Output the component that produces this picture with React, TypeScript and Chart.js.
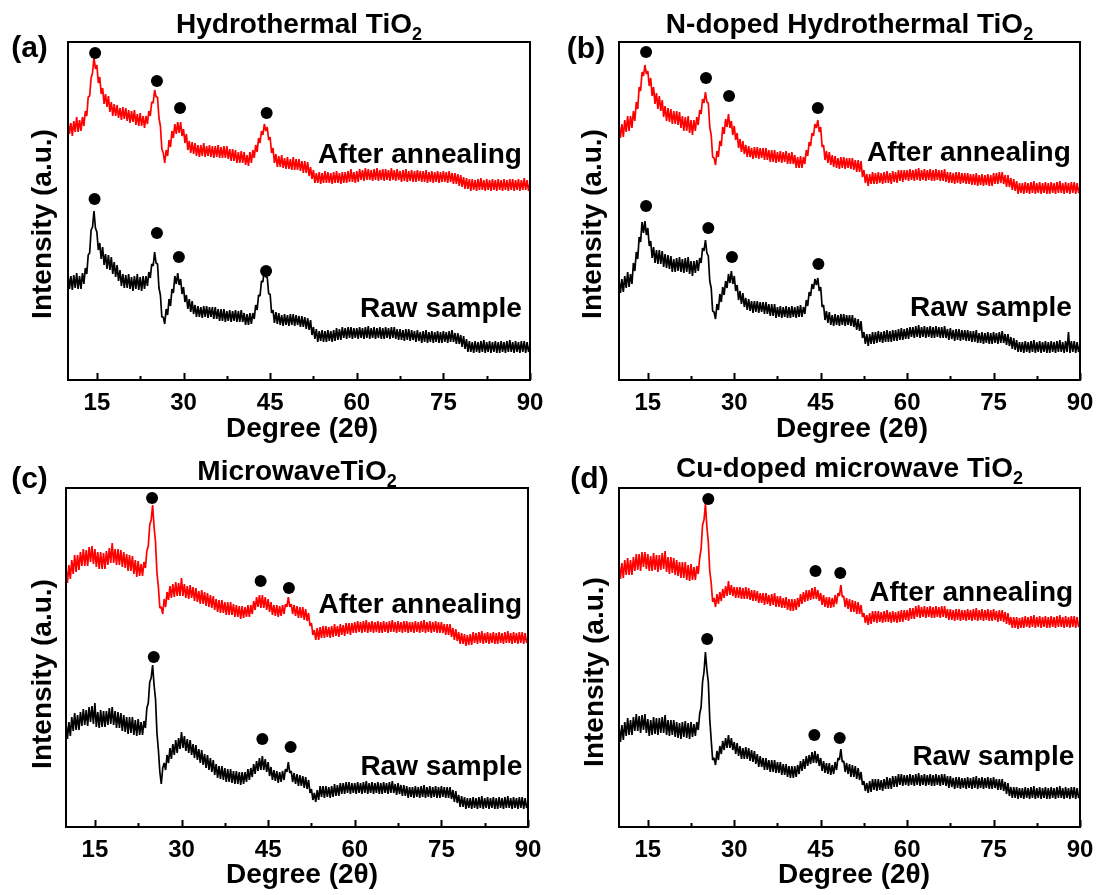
import { useEffect, useRef } from "react";
import { Chart, registerables } from "chart.js";

Chart.register(...registerables);

// ---------- shared axis data (2θ sampling, 0.25° steps) ----------
const degrees = [
  10, 10.25, 10.5, 10.75, 11, 11.25, 11.5, 11.75, 12, 12.25, 12.5, 12.75, 13, 13.25, 13.5, 13.75, 14, 14.25, 14.5, 14.75,
  15, 15.25, 15.5, 15.75, 16, 16.25, 16.5, 16.75, 17, 17.25, 17.5, 17.75, 18, 18.25, 18.5, 18.75, 19, 19.25, 19.5, 19.75,
  20, 20.25, 20.5, 20.75, 21, 21.25, 21.5, 21.75, 22, 22.25, 22.5, 22.75, 23, 23.25, 23.5, 23.75, 24, 24.25, 24.5, 24.75,
  25, 25.25, 25.5, 25.75, 26, 26.25, 26.5, 26.75, 27, 27.25, 27.5, 27.75, 28, 28.25, 28.5, 28.75, 29, 29.25, 29.5, 29.75,
  30, 30.25, 30.5, 30.75, 31, 31.25, 31.5, 31.75, 32, 32.25, 32.5, 32.75, 33, 33.25, 33.5, 33.75, 34, 34.25, 34.5, 34.75,
  35, 35.25, 35.5, 35.75, 36, 36.25, 36.5, 36.75, 37, 37.25, 37.5, 37.75, 38, 38.25, 38.5, 38.75, 39, 39.25, 39.5, 39.75,
  40, 40.25, 40.5, 40.75, 41, 41.25, 41.5, 41.75, 42, 42.25, 42.5, 42.75, 43, 43.25, 43.5, 43.75, 44, 44.25, 44.5, 44.75,
  45, 45.25, 45.5, 45.75, 46, 46.25, 46.5, 46.75, 47, 47.25, 47.5, 47.75, 48, 48.25, 48.5, 48.75, 49, 49.25, 49.5, 49.75,
  50, 50.25, 50.5, 50.75, 51, 51.25, 51.5, 51.75, 52, 52.25, 52.5, 52.75, 53, 53.25, 53.5, 53.75, 54, 54.25, 54.5, 54.75,
  55, 55.25, 55.5, 55.75, 56, 56.25, 56.5, 56.75, 57, 57.25, 57.5, 57.75, 58, 58.25, 58.5, 58.75, 59, 59.25, 59.5, 59.75,
  60, 60.25, 60.5, 60.75, 61, 61.25, 61.5, 61.75, 62, 62.25, 62.5, 62.75, 63, 63.25, 63.5, 63.75, 64, 64.25, 64.5, 64.75,
  65, 65.25, 65.5, 65.75, 66, 66.25, 66.5, 66.75, 67, 67.25, 67.5, 67.75, 68, 68.25, 68.5, 68.75, 69, 69.25, 69.5, 69.75,
  70, 70.25, 70.5, 70.75, 71, 71.25, 71.5, 71.75, 72, 72.25, 72.5, 72.75, 73, 73.25, 73.5, 73.75, 74, 74.25, 74.5, 74.75,
  75, 75.25, 75.5, 75.75, 76, 76.25, 76.5, 76.75, 77, 77.25, 77.5, 77.75, 78, 78.25, 78.5, 78.75, 79, 79.25, 79.5, 79.75,
  80, 80.25, 80.5, 80.75, 81, 81.25, 81.5, 81.75, 82, 82.25, 82.5, 82.75, 83, 83.25, 83.5, 83.75, 84, 84.25, 84.5, 84.75,
  85, 85.25, 85.5, 85.75, 86, 86.25, 86.5, 86.75, 87, 87.25, 87.5, 87.75, 88, 88.25, 88.5, 88.75, 89, 89.25, 89.5, 89.75,
  90,
];
const xTickLabels = [15, 30, 45, 60, 75, 90];
const xMinorTicks = [22.5, 37.5, 52.5, 67.5, 82.5];

// ---------- (a) Hydrothermal TiO2 ----------
const hydroAnnealed = [
  259, 246, 257, 244, 259, 248, 263, 248, 260, 249, 263, 254, 269, 264, 283, 284, 302, 307, 323, 311,
  315, 297, 303, 286, 292, 276, 286, 273, 284, 268, 278, 264, 276, 264, 275, 262, 272, 260, 273, 261,
  272, 259, 270, 257, 269, 258, 270, 255, 266, 254, 267, 254, 264, 252, 264, 256, 269, 264, 278, 277,
  290, 283, 283, 262, 254, 231, 227, 217, 230, 224, 240, 233, 249, 242, 256, 246, 258, 247, 258, 244,
  251, 237, 246, 230, 239, 227, 238, 226, 237, 224, 235, 223, 235, 224, 237, 223, 234, 224, 235, 223,
  234, 222, 234, 223, 235, 222, 233, 222, 234, 222, 234, 221, 231, 219, 231, 219, 230, 217, 228, 217,
  229, 217, 228, 215, 225, 214, 228, 217, 230, 222, 235, 228, 242, 237, 249, 245, 256, 249, 253, 240,
  243, 227, 232, 217, 226, 213, 224, 213, 225, 212, 222, 211, 223, 211, 221, 210, 223, 210, 221, 210,
  221, 209, 219, 207, 219, 207, 218, 204, 213, 201, 210, 197, 207, 197, 208, 196, 207, 197, 209, 197,
  208, 197, 207, 196, 208, 197, 209, 197, 207, 196, 208, 197, 208, 197, 209, 198, 211, 198, 208, 197,
  209, 198, 211, 200, 210, 199, 212, 200, 211, 200, 210, 199, 211, 200, 212, 199, 210, 200, 211, 199,
  211, 200, 210, 199, 212, 200, 210, 199, 211, 200, 209, 198, 210, 199, 211, 198, 209, 199, 210, 198,
  209, 198, 210, 199, 209, 198, 209, 198, 210, 197, 208, 198, 209, 197, 208, 198, 209, 197, 208, 198,
  209, 198, 208, 197, 209, 198, 207, 196, 207, 196, 206, 194, 205, 193, 203, 191, 202, 191, 201, 189,
  201, 190, 200, 189, 201, 190, 202, 190, 200, 189, 201, 190, 200, 189, 201, 190, 200, 189, 201, 190,
  200, 189, 201, 190, 200, 189, 201, 190, 201, 189, 200, 190, 201, 189, 200, 190, 202, 190, 200, 189,
  197,
];
const hydroRaw = [
  106, 91, 104, 90, 105, 92, 107, 91, 104, 91, 107, 96, 112, 106, 125, 127, 150, 153, 169, 152,
  148, 130, 137, 121, 133, 115, 126, 111, 125, 110, 123, 106, 118, 103, 115, 99, 110, 94, 106, 92,
  105, 92, 106, 91, 103, 89, 104, 91, 106, 90, 103, 89, 104, 91, 104, 94, 108, 102, 116, 114,
  128, 117, 116, 92, 85, 63, 63, 56, 71, 65, 81, 74, 91, 87, 104, 96, 107, 95, 101, 86,
  93, 78, 85, 71, 81, 68, 79, 66, 75, 63, 74, 63, 73, 62, 74, 63, 74, 62, 73, 63,
  73, 61, 73, 61, 71, 59, 71, 59, 71, 58, 69, 59, 70, 58, 69, 59, 70, 58, 69, 58,
  70, 58, 67, 55, 66, 55, 67, 56, 67, 61, 75, 70, 85, 84, 99, 98, 111, 103, 103, 86,
  86, 67, 70, 57, 68, 56, 67, 55, 65, 54, 66, 55, 65, 54, 66, 55, 66, 54, 65, 55,
  64, 53, 64, 53, 63, 51, 62, 50, 60, 45, 53, 41, 51, 38, 49, 39, 50, 38, 49, 38,
  50, 39, 49, 38, 50, 39, 52, 40, 51, 40, 53, 42, 52, 41, 53, 42, 53, 41, 52, 42,
  52, 41, 53, 42, 52, 41, 53, 42, 54, 41, 52, 42, 53, 41, 52, 42, 53, 41, 52, 41,
  53, 42, 52, 41, 53, 42, 53, 41, 51, 40, 51, 40, 50, 39, 51, 40, 51, 39, 50, 40,
  49, 38, 50, 39, 48, 37, 49, 38, 50, 37, 48, 38, 49, 37, 48, 38, 49, 37, 48, 37,
  49, 38, 48, 37, 49, 38, 50, 38, 47, 36, 47, 36, 45, 33, 44, 31, 41, 28, 39, 28,
  38, 27, 39, 28, 38, 27, 39, 28, 40, 27, 38, 28, 39, 27, 38, 28, 39, 27, 38, 27,
  39, 28, 38, 27, 39, 28, 40, 28, 38, 27, 39, 28, 38, 27, 39, 28, 39, 27, 38, 28,
  35,
];
const hydroAnnealedPeaks = [[14.7, 327], [25.4, 299], [29.4, 272], [44.4, 267]];
const hydroRawPeaks = [[14.6, 181], [25.4, 147], [29.2, 123], [44.3, 109]];

// ---------- (b) N-doped Hydrothermal TiO2 ----------
const nDopedAnnealed = [
  256, 242, 256, 243, 260, 248, 264, 249, 264, 252, 269, 259, 278, 271, 293, 289, 308, 304, 315, 306,
  309, 294, 302, 284, 293, 276, 287, 271, 284, 269, 280, 263, 274, 259, 272, 258, 271, 256, 269, 256,
  269, 255, 268, 252, 264, 249, 263, 249, 264, 247, 260, 245, 260, 249, 263, 255, 270, 266, 281, 277,
  288, 278, 277, 253, 245, 223, 222, 215, 229, 223, 239, 234, 253, 246, 261, 253, 266, 252, 259, 245,
  254, 240, 247, 232, 241, 228, 239, 226, 235, 223, 234, 223, 232, 221, 233, 222, 233, 221, 232, 222,
  232, 220, 232, 220, 230, 218, 230, 218, 230, 217, 228, 218, 229, 217, 228, 218, 229, 216, 227, 216,
  228, 216, 225, 212, 223, 212, 224, 212, 223, 216, 230, 224, 238, 234, 247, 244, 256, 252, 260, 248,
  253, 233, 235, 220, 229, 217, 228, 215, 225, 213, 224, 212, 222, 211, 223, 212, 223, 211, 222, 212,
  222, 211, 222, 210, 220, 208, 220, 208, 219, 203, 210, 197, 206, 194, 206, 196, 208, 196, 207, 196,
  208, 197, 207, 196, 208, 197, 209, 197, 207, 196, 209, 198, 208, 197, 210, 199, 210, 198, 210, 200,
  210, 199, 211, 200, 210, 199, 211, 200, 212, 199, 210, 200, 211, 199, 210, 200, 211, 199, 210, 199,
  211, 200, 210, 199, 210, 199, 211, 198, 208, 197, 208, 197, 207, 196, 208, 197, 208, 196, 207, 197,
  207, 196, 207, 196, 206, 195, 206, 195, 207, 194, 205, 195, 206, 194, 205, 195, 206, 194, 205, 194,
  207, 196, 207, 196, 208, 197, 208, 196, 205, 193, 205, 193, 202, 190, 201, 189, 199, 186, 197, 187,
  197, 186, 198, 187, 197, 186, 198, 187, 199, 186, 197, 187, 198, 186, 197, 187, 198, 186, 197, 186,
  198, 187, 197, 186, 198, 187, 199, 187, 197, 186, 198, 187, 197, 186, 198, 187, 198, 186, 197, 187,
  194,
];
const nDopedRaw = [
  101, 87, 101, 88, 104, 92, 108, 93, 106, 96, 117, 109, 128, 121, 143, 138, 158, 147, 159, 145,
  152, 134, 139, 122, 133, 117, 130, 116, 130, 116, 129, 113, 126, 112, 125, 111, 124, 108, 121, 108,
  122, 109, 123, 108, 121, 107, 122, 108, 123, 106, 119, 104, 119, 107, 120, 109, 122, 117, 132, 129,
  140, 127, 124, 99, 92, 69, 68, 61, 76, 70, 86, 78, 93, 85, 99, 92, 106, 97, 109, 96,
  104, 89, 95, 80, 89, 76, 87, 73, 82, 70, 81, 69, 79, 67, 79, 68, 79, 67, 78, 68,
  78, 66, 78, 66, 76, 64, 76, 64, 76, 62, 73, 63, 74, 62, 73, 63, 74, 62, 73, 62,
  74, 63, 73, 62, 74, 63, 75, 63, 73, 66, 80, 74, 88, 84, 96, 91, 101, 95, 102, 89,
  93, 73, 75, 60, 69, 57, 68, 55, 65, 54, 66, 55, 65, 54, 66, 55, 66, 54, 65, 55,
  65, 54, 65, 53, 62, 50, 61, 49, 59, 42, 48, 36, 46, 34, 46, 36, 48, 36, 48, 37,
  49, 38, 48, 37, 49, 38, 50, 38, 49, 38, 50, 39, 50, 39, 51, 40, 52, 40, 51, 41,
  52, 41, 53, 43, 53, 42, 54, 43, 55, 42, 53, 43, 54, 42, 53, 43, 54, 42, 53, 42,
  54, 43, 53, 42, 53, 42, 54, 42, 51, 40, 52, 41, 50, 39, 51, 40, 51, 39, 50, 40,
  50, 39, 50, 39, 49, 38, 49, 38, 50, 37, 47, 37, 48, 36, 47, 37, 48, 36, 47, 36,
  48, 37, 47, 36, 48, 37, 49, 37, 46, 35, 46, 34, 43, 31, 42, 30, 40, 28, 38, 28,
  38, 27, 39, 28, 38, 27, 39, 28, 40, 27, 38, 28, 39, 27, 38, 28, 39, 27, 38, 27,
  39, 28, 38, 27, 39, 28, 40, 28, 38, 27, 39, 28, 48, 27, 39, 28, 39, 27, 38, 28,
  35,
];
const nDopedAnnealedPeaks = [[14.7, 328], [25.1, 302], [29.1, 284], [44.5, 272]];
const nDopedRawPeaks = [[14.7, 174], [25.5, 152], [29.6, 123], [44.6, 116]];

// ---------- (c) Microwave TiO2 ----------
const microAnnealed = [
  259, 244, 262, 248, 267, 253, 272, 255, 272, 257, 275, 261, 278, 261, 277, 261, 280, 265, 281, 263,
  278, 260, 275, 258, 275, 258, 274, 258, 276, 262, 279, 264, 284, 264, 278, 262, 278, 262, 277, 260,
  275, 259, 273, 256, 272, 256, 271, 253, 267, 250, 266, 251, 263, 251, 265, 259, 276, 281, 302, 307,
  322, 300, 285, 254, 240, 219, 220, 213, 228, 220, 235, 227, 241, 229, 243, 230, 245, 231, 244, 231,
  249, 231, 243, 229, 241, 228, 242, 229, 240, 226, 239, 225, 236, 223, 237, 223, 235, 221, 234, 220,
  232, 219, 231, 217, 228, 215, 227, 214, 227, 214, 225, 212, 225, 212, 225, 212, 223, 210, 222, 210,
  221, 208, 221, 209, 220, 210, 222, 210, 222, 213, 226, 217, 230, 220, 232, 219, 232, 219, 230, 217,
  228, 215, 225, 212, 222, 211, 222, 210, 221, 211, 222, 213, 223, 220, 230, 220, 223, 213, 222, 211,
  221, 209, 220, 209, 220, 207, 218, 206, 214, 201, 204, 192, 197, 187, 199, 187, 200, 189, 201, 189,
  201, 190, 200, 189, 201, 190, 203, 191, 201, 190, 203, 192, 202, 191, 204, 193, 204, 192, 204, 194,
  205, 194, 206, 195, 205, 194, 206, 195, 207, 194, 205, 195, 206, 194, 205, 195, 206, 194, 205, 194,
  206, 195, 205, 194, 206, 195, 207, 195, 205, 194, 206, 195, 205, 194, 206, 195, 206, 194, 205, 195,
  205, 194, 206, 195, 205, 194, 206, 195, 207, 194, 205, 195, 206, 194, 205, 195, 206, 194, 205, 194,
  205, 194, 203, 192, 203, 192, 203, 190, 199, 187, 198, 186, 195, 183, 194, 183, 193, 181, 192, 182,
  193, 182, 195, 184, 194, 183, 195, 184, 196, 183, 194, 184, 195, 183, 194, 184, 195, 183, 194, 183,
  195, 184, 194, 183, 195, 184, 196, 184, 194, 183, 195, 184, 194, 183, 195, 184, 195, 183, 194, 184,
  189,
];
const microRaw = [
  104, 88, 105, 91, 110, 96, 114, 97, 112, 97, 115, 101, 118, 102, 117, 101, 120, 105, 121, 103,
  124, 100, 115, 99, 117, 100, 116, 100, 116, 102, 119, 103, 120, 102, 116, 99, 115, 99, 114, 96,
  112, 95, 110, 93, 110, 94, 110, 92, 107, 91, 108, 92, 105, 92, 106, 99, 119, 124, 145, 149,
  162, 142, 128, 94, 77, 55, 43, 59, 64, 57, 72, 64, 79, 68, 83, 72, 87, 74, 89, 78,
  95, 79, 91, 76, 88, 74, 87, 72, 83, 69, 82, 67, 78, 64, 77, 62, 73, 59, 72, 57,
  69, 55, 67, 52, 63, 49, 61, 48, 61, 47, 59, 45, 58, 45, 58, 44, 56, 43, 56, 43,
  55, 42, 55, 43, 55, 45, 58, 47, 59, 50, 63, 53, 66, 56, 69, 57, 71, 57, 68, 55,
  65, 51, 60, 47, 57, 46, 56, 44, 55, 45, 56, 47, 58, 55, 65, 54, 56, 45, 54, 43,
  53, 41, 52, 41, 51, 39, 50, 38, 47, 34, 38, 27, 34, 25, 37, 27, 41, 30, 41, 29,
  41, 30, 40, 29, 41, 30, 43, 31, 42, 31, 44, 33, 44, 33, 45, 34, 45, 33, 44, 34,
  44, 33, 45, 34, 44, 33, 45, 34, 46, 33, 44, 34, 45, 33, 44, 34, 45, 33, 44, 33,
  45, 34, 44, 33, 45, 34, 46, 34, 43, 32, 44, 33, 42, 31, 42, 31, 41, 29, 40, 30,
  40, 29, 41, 30, 40, 29, 41, 30, 42, 29, 40, 30, 41, 29, 40, 30, 41, 29, 40, 29,
  41, 30, 40, 29, 40, 29, 40, 28, 37, 25, 36, 24, 32, 20, 31, 20, 30, 18, 29, 19,
  29, 18, 30, 19, 29, 18, 30, 19, 31, 18, 29, 19, 30, 18, 29, 19, 30, 18, 29, 18,
  30, 19, 29, 18, 30, 19, 31, 19, 29, 18, 30, 19, 29, 18, 30, 19, 30, 18, 29, 19,
  24,
];
const microAnnealedPeaks = [[24.9, 329], [43.7, 246], [48.6, 239]];
const microRawPeaks = [[25.2, 170], [44.0, 88], [48.9, 80]];

// ---------- (d) Cu-doped microwave TiO2 ----------
const cuDopedAnnealed = [
  264, 248, 264, 249, 267, 252, 269, 252, 267, 252, 270, 256, 273, 257, 273, 256, 275, 260, 275, 258,
  273, 256, 271, 256, 274, 257, 272, 255, 272, 257, 274, 258, 276, 255, 270, 253, 270, 254, 269, 252,
  267, 251, 265, 249, 265, 249, 265, 247, 262, 246, 263, 247, 260, 247, 261, 253, 269, 278, 302, 307,
  323, 300, 285, 256, 244, 225, 229, 220, 233, 223, 235, 226, 238, 229, 241, 231, 246, 232, 242, 231,
  240, 229, 240, 229, 240, 228, 239, 228, 240, 228, 239, 227, 237, 226, 237, 226, 236, 224, 234, 224,
  234, 222, 234, 223, 232, 221, 233, 222, 234, 220, 231, 220, 231, 219, 229, 219, 230, 217, 228, 216,
  228, 216, 228, 217, 229, 220, 233, 223, 235, 225, 237, 226, 237, 227, 239, 228, 240, 228, 237, 226,
  234, 222, 232, 220, 230, 219, 230, 219, 229, 220, 232, 223, 234, 231, 242, 230, 231, 220, 229, 218,
  228, 215, 227, 215, 226, 213, 225, 213, 222, 210, 214, 204, 212, 202, 214, 203, 216, 205, 216, 204,
  216, 205, 215, 204, 216, 205, 217, 205, 215, 204, 216, 205, 215, 204, 216, 205, 217, 205, 217, 207,
  217, 206, 219, 208, 219, 208, 221, 210, 222, 209, 220, 210, 221, 209, 220, 210, 221, 209, 220, 209,
  221, 210, 220, 209, 221, 210, 221, 209, 218, 207, 218, 207, 217, 206, 218, 207, 218, 206, 217, 207,
  217, 206, 218, 207, 217, 206, 218, 207, 219, 206, 217, 207, 218, 206, 217, 207, 218, 206, 217, 206,
  218, 207, 216, 205, 217, 206, 217, 205, 215, 203, 214, 202, 210, 199, 210, 199, 210, 198, 209, 199,
  210, 199, 211, 200, 210, 199, 211, 200, 212, 199, 210, 200, 211, 199, 210, 200, 211, 199, 210, 199,
  211, 200, 210, 199, 211, 200, 212, 200, 210, 199, 211, 200, 210, 199, 211, 200, 211, 199, 210, 200,
  205,
];
const cuDopedRaw = [
  101, 85, 102, 87, 105, 91, 109, 92, 107, 92, 110, 96, 113, 96, 111, 94, 112, 97, 113, 94,
  108, 91, 107, 92, 110, 93, 109, 92, 109, 94, 110, 94, 112, 92, 107, 91, 107, 92, 107, 90,
  105, 89, 104, 88, 105, 90, 106, 89, 104, 88, 105, 90, 103, 91, 105, 97, 113, 120, 145, 155,
  175, 157, 145, 108, 87, 67, 69, 62, 76, 67, 81, 73, 86, 77, 89, 79, 92, 79, 89, 77,
  85, 73, 84, 71, 81, 68, 79, 68, 80, 68, 79, 66, 77, 65, 76, 63, 73, 60, 71, 60,
  69, 57, 69, 57, 67, 55, 67, 55, 67, 54, 65, 54, 65, 52, 63, 52, 63, 50, 61, 49,
  61, 49, 61, 50, 62, 53, 66, 56, 68, 58, 71, 61, 72, 63, 75, 64, 76, 64, 73, 61,
  69, 56, 66, 54, 64, 53, 64, 52, 62, 53, 65, 57, 69, 67, 78, 65, 66, 55, 64, 53,
  63, 50, 62, 50, 61, 48, 59, 47, 55, 42, 46, 36, 44, 34, 46, 35, 48, 37, 48, 36,
  48, 37, 47, 36, 48, 38, 50, 38, 49, 38, 51, 40, 51, 40, 53, 42, 53, 41, 52, 42,
  52, 41, 53, 42, 52, 41, 53, 42, 54, 41, 52, 42, 53, 41, 52, 42, 53, 41, 52, 41,
  53, 42, 52, 41, 53, 42, 53, 41, 51, 39, 51, 40, 49, 38, 50, 39, 50, 38, 49, 39,
  49, 38, 50, 39, 49, 38, 50, 39, 51, 38, 49, 39, 50, 38, 49, 39, 50, 38, 49, 38,
  50, 39, 48, 37, 48, 37, 48, 36, 45, 33, 44, 31, 40, 29, 40, 29, 40, 28, 39, 29,
  39, 28, 40, 29, 39, 28, 40, 29, 41, 28, 39, 29, 40, 28, 39, 29, 40, 28, 39, 28,
  40, 29, 39, 28, 40, 29, 41, 29, 39, 28, 40, 29, 39, 28, 40, 29, 40, 28, 39, 29,
  34,
];
const cuDopedAnnealedPeaks = [[25.5, 328], [44.1, 256], [48.4, 254]];
const cuDopedRawPeaks = [[25.3, 188], [43.9, 92], [48.3, 89]];

const annealedLabel = "After annealing";
const rawLabel = "Raw sample";
const xTitle = "Degree (2θ)";
const yTitle = "Intensity (a.u.)";

const FONT = '"Liberation Sans", Arial, Helvetica, sans-serif';
const CW = 549;
const CH = 447;

type PanelCfg = {
  letter: string;
  title: string;
  sub: string;
  annealed: number[];
  raw: number[];
  annealedPeaks: number[][];
  rawPeaks: number[][];
  annealedLabelAt: number[];
  rawLabelAt: number[];
  yMax: number;
  canvasLeft: number;
  canvasTop: number;
  areaLeft: number;
  areaRight: number;
  areaTop: number;
  areaBottom: number;
  letterPos: number[];
  titleBaseline: number;
  yTitlePos: number[];
  xTitlePos: number[];
};

const panels: PanelCfg[] = [
  {
    letter: "(a)", title: "Hydrothermal TiO", sub: "2",
    annealed: hydroAnnealed, raw: hydroRaw,
    annealedPeaks: hydroAnnealedPeaks, rawPeaks: hydroRawPeaks,
    annealedLabelAt: [88.6, 225], rawLabelAt: [88.6, 71], yMax: 338,
    canvasLeft: 0, canvasTop: 0, areaLeft: 68, areaRight: 530, areaTop: 42, areaBottom: 380,
    letterPos: [29.5, 49], titleBaseline: 33, yTitlePos: [51, 224], xTitlePos: [302, 437],
  },
  {
    letter: "(b)", title: "N-doped Hydrothermal TiO", sub: "2",
    annealed: nDopedAnnealed, raw: nDopedRaw,
    annealedPeaks: nDopedAnnealedPeaks, rawPeaks: nDopedRawPeaks,
    annealedLabelAt: [88.4, 227], rawLabelAt: [88.6, 72], yMax: 338,
    canvasLeft: 550, canvasTop: 0, areaLeft: 69, areaRight: 530, areaTop: 42, areaBottom: 380,
    letterPos: [36, 50], titleBaseline: 33, yTitlePos: [51, 224], xTitlePos: [302, 437],
  },
  {
    letter: "(c)", title: "MicrowaveTiO", sub: "2",
    annealed: microAnnealed, raw: microRaw,
    annealedPeaks: microAnnealedPeaks, rawPeaks: microRawPeaks,
    annealedLabelAt: [89.0, 222], rawLabelAt: [89.0, 60], yMax: 339,
    canvasLeft: 0, canvasTop: 446, areaLeft: 66, areaRight: 528, areaTop: 42, areaBottom: 381,
    letterPos: [29.5, 34], titleBaseline: 34, yTitlePos: [51, 228], xTitlePos: [302, 437],
  },
  {
    letter: "(d)", title: "Cu-doped microwave TiO", sub: "2",
    annealed: cuDopedAnnealed, raw: cuDopedRaw,
    annealedPeaks: cuDopedAnnealedPeaks, rawPeaks: cuDopedRawPeaks,
    annealedLabelAt: [88.8, 234], rawLabelAt: [89.0, 70], yMax: 339,
    canvasLeft: 550, canvasTop: 446, areaLeft: 69, areaRight: 530, areaTop: 42, areaBottom: 381,
    letterPos: [39.5, 34], titleBaseline: 31, yTitlePos: [53, 226], xTitlePos: [304, 437],
  },
];

function makeDecor(cfg: PanelCfg) {
  return {
    id: "decor",
    afterDraw(chart: any) {
      const { ctx, chartArea: a, scales } = chart;
      const x = scales.x;
      const y = scales.y;
      ctx.save();
      // frame
      ctx.strokeStyle = "#000";
      ctx.lineWidth = 2;
      ctx.strokeRect(a.left, a.top, a.right - a.left, a.bottom - a.top);
      // inward ticks
      ctx.beginPath();
      for (const v of xTickLabels) {
        const px = Math.round(x.getPixelForValue(v)) + 0.5;
        ctx.moveTo(px, a.bottom);
        ctx.lineTo(px, a.bottom - 7);
      }
      for (const v of xMinorTicks) {
        const px = Math.round(x.getPixelForValue(v)) + 0.5;
        ctx.moveTo(px, a.bottom);
        ctx.lineTo(px, a.bottom - 4);
      }
      ctx.stroke();

      ctx.fillStyle = "#000";
      // series labels
      ctx.font = `bold 28px ${FONT}`;
      ctx.textAlign = "right";
      ctx.textBaseline = "middle";
      ctx.fillText(annealedLabel, x.getPixelForValue(cfg.annealedLabelAt[0]), y.getPixelForValue(cfg.annealedLabelAt[1]));
      ctx.fillText(rawLabel, x.getPixelForValue(cfg.rawLabelAt[0]), y.getPixelForValue(cfg.rawLabelAt[1]));

      // title with subscript
      ctx.textBaseline = "alphabetic";
      ctx.textAlign = "left";
      ctx.font = `bold 28px ${FONT}`;
      const wMain = ctx.measureText(cfg.title).width;
      ctx.font = `bold 18px ${FONT}`;
      const wSub = ctx.measureText(cfg.sub).width;
      const cx = (a.left + a.right) / 2;
      const startX = cx - (wMain + wSub) / 2;
      ctx.font = `bold 28px ${FONT}`;
      ctx.fillText(cfg.title, startX, cfg.titleBaseline);
      ctx.font = `bold 18px ${FONT}`;
      ctx.fillText(cfg.sub, startX + wMain, cfg.titleBaseline + 7);

      // panel letter
      ctx.font = `bold 30px ${FONT}`;
      ctx.textAlign = "center";
      ctx.textBaseline = "middle";
      ctx.fillText(cfg.letter, cfg.letterPos[0], cfg.letterPos[1]);

      // axis titles
      ctx.font = `bold 28px ${FONT}`;
      ctx.textAlign = "center";
      ctx.textBaseline = "alphabetic";
      ctx.fillText(xTitle, cfg.xTitlePos[0], cfg.xTitlePos[1]);
      ctx.save();
      ctx.translate(cfg.yTitlePos[0], cfg.yTitlePos[1]);
      ctx.rotate(-Math.PI / 2);
      ctx.fillText(yTitle, 0, 0);
      ctx.restore();

      ctx.restore();
    },
  };
}

function Panel({ cfg }: { cfg: PanelCfg }) {
  const ref = useRef<HTMLCanvasElement | null>(null);
  useEffect(() => {
    if (!ref.current) return;
    const toPts = (arr: number[]) => degrees.map((d, i) => ({ x: d, y: arr[i] }));
    const toPeak = (arr: number[][]) => arr.map((p) => ({ x: p[0], y: p[1] }));
    const lineStyle = {
      borderWidth: 1.7,
      borderJoinStyle: "bevel",
      pointRadius: 0,
      tension: 0,
      fill: false,
    };
    const chart = new Chart(ref.current, {
      type: "line",
      data: {
        datasets: [
          {
            type: "scatter",
            data: toPeak(cfg.annealedPeaks),
            pointRadius: 6,
            pointBackgroundColor: "#000",
            pointBorderWidth: 0,
            showLine: false,
          } as any,
          {
            type: "scatter",
            data: toPeak(cfg.rawPeaks),
            pointRadius: 6,
            pointBackgroundColor: "#000",
            pointBorderWidth: 0,
            showLine: false,
          } as any,
          { data: toPts(cfg.annealed), borderColor: "#ff0000", ...lineStyle } as any,
          { data: toPts(cfg.raw), borderColor: "#000000", ...lineStyle } as any,
        ],
      },
      options: {
        responsive: false,
        animation: false,
        events: [],
        layout: {
          padding: { left: cfg.areaLeft, right: CW - cfg.areaRight, top: cfg.areaTop, bottom: 0 },
        },
        plugins: {
          legend: { display: false },
          tooltip: { enabled: false },
          title: { display: false },
        },
        scales: {
          x: {
            type: "linear",
            min: 10,
            max: 90,
            afterBuildTicks: (s: any) => {
              s.ticks = xTickLabels.map((v) => ({ value: v }));
            },
            afterFit: (s: any) => {
              s.height = CH - cfg.areaBottom;
            },
            grid: { display: false },
            border: { display: false },
            ticks: {
              color: "#000",
              font: { family: FONT, size: 24, weight: "bold" },
              padding: 1,
              maxRotation: 0,
              autoSkip: false,
            },
          },
          y: {
            type: "linear",
            display: false,
            min: 0,
            max: cfg.yMax,
          },
        },
      },
      plugins: [makeDecor(cfg)],
    } as any);
    return () => chart.destroy();
  }, [cfg]);
  return (
    <canvas
      ref={ref}
      width={CW}
      height={CH}
      style={{ position: "absolute", left: cfg.canvasLeft, top: cfg.canvasTop, width: CW, height: CH }}
    />
  );
}

export default function App() {
  return (
    <div style={{ position: "absolute", left: 0, top: 0, width: 1099, height: 895, background: "#fff" }}>
      {panels.map((p) => (
        <Panel key={p.letter} cfg={p} />
      ))}
    </div>
  );
}
